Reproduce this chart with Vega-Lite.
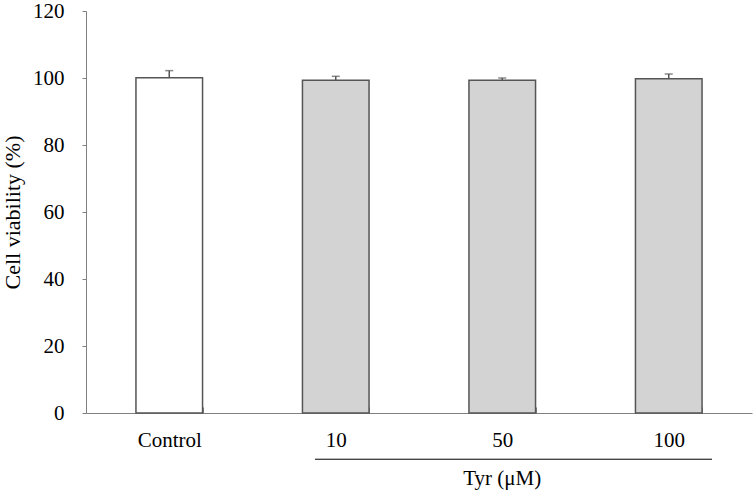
{
  "$schema": "https://vega.github.io/schema/vega-lite/v6.json",
  "autosize": {"type": "none"},
  "padding": {"left": 86, "top": 11, "right": 4, "bottom": 83},
  "width": 666,
  "height": 402,
  "config": {
    "font": "Times New Roman, Liberation Serif, serif",
    "view": {"stroke": null},
    "text": {"font": "Times New Roman, Liberation Serif, serif"},
    "axis": {"labelFont": "Times New Roman, Liberation Serif, serif", "titleFont": "Times New Roman, Liberation Serif, serif", "labelColor": "#000", "titleColor": "#000", "grid": false, "domainColor": "#808080", "tickColor": "#808080"}
  },
  "datasets": {
    "bars": [
      {"group": "Control", "value": 100.1, "upper": 102.2, "kind": "control"},
      {"group": "10", "value": 99.3, "upper": 100.5, "kind": "tyr"},
      {"group": "50", "value": 99.3, "upper": 100.0, "kind": "tyr"},
      {"group": "100", "value": 99.8, "upper": 101.2, "kind": "tyr"}
    ],
    "bracket": [
      {"start": 1.375, "end": 3.76, "level": -13.8, "pos": 2.5, "tlevel": -19.6, "label": "Tyr (μM)"}
    ]
  },
  "resolve": {"scale": {"x": "independent"}, "axis": {"x": "independent"}},
  "layer": [
    {
      "data": {"name": "bars"},
      "encoding": {
        "x": {
          "field": "group", "type": "nominal", "sort": ["Control", "10", "50", "100"],
          "scale": {"paddingInner": 0.6, "paddingOuter": 0.3},
          "axis": {"title": null, "labelAngle": 0, "labelFontSize": 21, "labelPadding": 22, "tickBand": "extent", "tickSize": -6, "domainWidth": 1, "tickWidth": 1}
        }
      },
      "layer": [
        {
          "mark": {"type": "bar", "stroke": "#555555", "strokeWidth": 1.5},
          "encoding": {
            "y": {
              "field": "value", "type": "quantitative",
              "scale": {"domain": [0, 120]},
              "axis": {"title": "Cell viability (%)", "titleFontSize": 22, "titleFontWeight": "normal", "titlePadding": 8, "values": [0, 20, 40, 60, 80, 100, 120], "labelFontSize": 21, "labelPadding": 18, "tickSize": 4, "domainWidth": 1, "tickWidth": 1}
            },
            "fill": {"field": "kind", "type": "nominal", "scale": {"domain": ["control", "tyr"], "range": ["#ffffff", "#d3d3d3"]}, "legend": null}
          }
        },
        {
          "mark": {"type": "rule", "color": "#555555", "strokeWidth": 1.5},
          "encoding": {
            "y": {"field": "value", "type": "quantitative"},
            "y2": {"field": "upper"}
          }
        },
        {
          "mark": {"type": "tick", "color": "#555555", "thickness": 1.5, "size": 8, "orient": "horizontal"},
          "encoding": {
            "y": {"field": "upper", "type": "quantitative"}
          }
        }
      ]
    },
    {
      "data": {"name": "bracket"},
      "encoding": {},
      "layer": [
        {
          "mark": {"type": "rule", "color": "#000000", "strokeWidth": 1, "clip": false},
          "encoding": {
            "x": {"field": "start", "type": "quantitative", "scale": {"domain": [0, 4]}, "axis": null},
            "x2": {"field": "end"},
            "y": {"field": "level", "type": "quantitative"}
          }
        },
        {
          "mark": {"type": "text", "fontSize": 21, "font": "Times New Roman, Liberation Serif, serif", "color": "#000", "clip": false, "baseline": "middle"},
          "encoding": {
            "x": {"field": "pos", "type": "quantitative", "scale": {"domain": [0, 4]}, "axis": null},
            "y": {"field": "tlevel", "type": "quantitative"},
            "text": {"field": "label"}
          }
        }
      ]
    }
  ]
}
